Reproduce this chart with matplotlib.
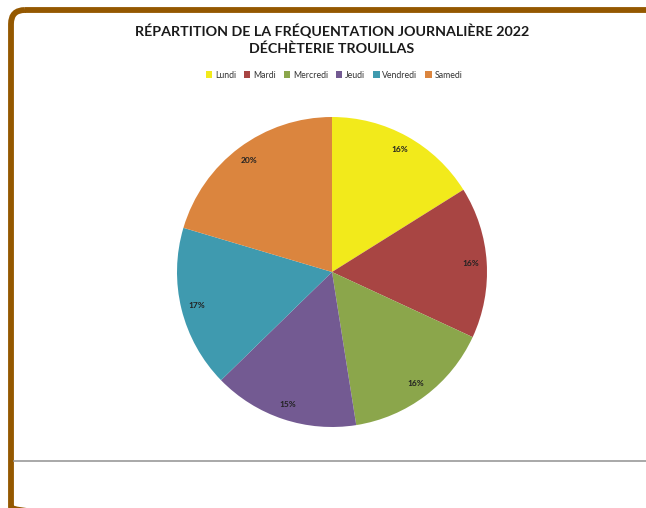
import matplotlib
matplotlib.use('Agg')
import matplotlib.pyplot as plt
from matplotlib.patches import FancyBboxPatch, Patch

# Fréquentation par jour (en % du total)
jours = ['Lundi', 'Mardi', 'Mercredi', 'Jeudi', 'Vendredi', 'Samedi']
parts = [16.1, 15.8, 15.6, 15.2, 16.9, 20.4]
couleurs = ['#F2EA1B', '#A84543', '#8BA64B', '#735A92', '#3F9AAF', '#DB853E']

titre = 'RÉPARTITION DE LA FRÉQUENTATION JOURNALIÈRE 2022\nDÉCHÈTERIE TROUILLAS'

plt.rcParams['font.family'] = ['Lato', 'DejaVu Sans']

W, H = 646, 508
fig = plt.figure(figsize=(W / 100, H / 100), dpi=100)

# calque de fond en coordonnées pixel pour le cadre et le trait gris
bg = fig.add_axes([0, 0, 1, 1])
bg.set_xlim(0, W)
bg.set_ylim(H, 0)
bg.axis('off')
cadre = FancyBboxPatch((11, 10), 670, 511, boxstyle='round,pad=0,rounding_size=14',
                       fill=False, edgecolor='#945800', linewidth=4.2)
bg.add_patch(cadre)
bg.plot([14, W], [461, 461], color='#9a9a9a', linewidth=1.2)

fig.text(332 / W, 1 - 39 / H, titre, ha='center', va='center', fontsize=10.3,
         fontweight='bold', linespacing=1.45, color='#1a1a1a')

# camembert
r = 155
cx, cy = 332, 272
ax = fig.add_axes([(cx - r) / W, (H - cy - r) / H, 2 * r / W, 2 * r / H])
wedges, _, autotexts = ax.pie(parts, colors=couleurs, startangle=90, counterclock=False,
                              autopct='%.0f%%', pctdistance=0.9, radius=1,
                              wedgeprops=dict(linewidth=0))
for t in autotexts:
    t.set_fontsize(6)
    t.set_fontweight('bold')
    t.set_color('#222222')
ax.set_xlim(-1, 1)
ax.set_ylim(-1, 1)
ax.set_aspect('equal')
ax.axis('off')

handles = [Patch(facecolor=c, edgecolor='none', label=j) for j, c in zip(jours, couleurs)]
fig.legend(handles=handles, loc='center', bbox_to_anchor=(334 / W, 1 - 75 / H), ncol=6,
           frameon=False, fontsize=6.3, handlelength=0.75, handleheight=0.75,
           handletextpad=0.3, columnspacing=0.9, labelcolor='#333333')

fig.savefig('out.png', dpi=100)
